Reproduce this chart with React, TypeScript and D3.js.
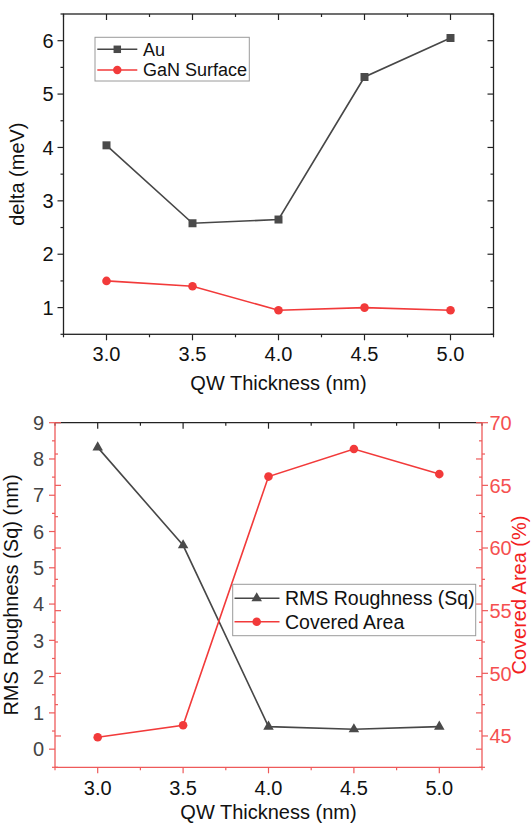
import React from "react";
import * as d3 from "d3";

// ---------- data ----------
const thickness = [3.0, 3.5, 4.0, 4.5, 5.0];
const auDelta = [4.04, 2.58, 2.65, 5.32, 6.05];
const ganDelta = [1.5, 1.4, 0.95, 1.0, 0.95];
const rmsRoughness = [8.32, 5.62, 0.62, 0.55, 0.62];
const coveredArea = [44.9, 45.85, 65.7, 67.9, 65.9];

const xTicks = [3.0, 3.5, 4.0, 4.5, 5.0];
const xMinorTicks = [2.75, 3.25, 3.75, 4.25, 4.75, 5.25];
const topYTicks = [1, 2, 3, 4, 5, 6];
const topYMinor = [0.5, 1.5, 2.5, 3.5, 4.5, 5.5, 6.5];
const leftYTicks = [0, 1, 2, 3, 4, 5, 6, 7, 8, 9];
const leftYMinor = [-0.5, 0.5, 1.5, 2.5, 3.5, 4.5, 5.5, 6.5, 7.5, 8.5];
const rightYTicks = [45, 50, 55, 60, 65, 70];
const rightYMinor = [42.5, 47.5, 52.5, 57.5, 62.5, 67.5];

const FONT = "'Liberation Sans', Arial, sans-serif";
const GRAY = "#474747";
const RED = "#f23a3a";
const AXRED = "#ee5a5a";
const MAJ = 6;
const MIN = 3;
const fmt = d3.format(".1f");

type TickProps = {
  vals: number[];
  scale: (v: number) => number;
  orient: "left" | "right" | "top" | "bottom";
  pos: number;
  len: number;
  dir: 1 | -1; // 1 outward, -1 inward
  color: string;
};

function Ticks({ vals, scale, orient, pos, len, dir, color }: TickProps) {
  return (
    <g stroke={color} strokeWidth={1.2}>
      {vals.map((v, i) => {
        const p = scale(v);
        if (orient === "left") return <line key={i} x1={pos} x2={pos - dir * len} y1={p} y2={p} />;
        if (orient === "right") return <line key={i} x1={pos} x2={pos + dir * len} y1={p} y2={p} />;
        if (orient === "top") return <line key={i} x1={p} x2={p} y1={pos} y2={pos - dir * len} />;
        return <line key={i} x1={p} x2={p} y1={pos} y2={pos + dir * len} />;
      })}
    </g>
  );
}

function TopChart() {
  const L = 63.5, R = 493.5, T = 14, B = 334.3;
  const x = d3.scaleLinear().domain([2.75, 5.25]).range([L, R]);
  const y = d3.scaleLinear().domain([0.5, 6.5]).range([B, T]);
  const line = d3.line<number>().x((_, i) => x(thickness[i])).y((d) => y(d));
  const sq = d3.symbol().type(d3.symbolSquare).size(64)() as string;
  const legendSq = d3.symbol().type(d3.symbolSquare).size(56)() as string;
  return (
    <g>
      <Ticks vals={xTicks} scale={x} orient="bottom" pos={B} len={MAJ} dir={1} color="#222" />
      <Ticks vals={xMinorTicks} scale={x} orient="bottom" pos={B} len={MIN} dir={1} color="#222" />
      <Ticks vals={xTicks} scale={x} orient="top" pos={T} len={MAJ} dir={-1} color="#222" />
      <Ticks vals={xMinorTicks} scale={x} orient="top" pos={T} len={MIN} dir={-1} color="#222" />
      <Ticks vals={topYTicks} scale={y} orient="left" pos={L} len={MAJ} dir={1} color="#222" />
      <Ticks vals={topYMinor} scale={y} orient="left" pos={L} len={MIN} dir={1} color="#222" />
      <Ticks vals={topYTicks} scale={y} orient="right" pos={R} len={MAJ} dir={-1} color="#222" />
      <Ticks vals={topYMinor} scale={y} orient="right" pos={R} len={MIN} dir={-1} color="#222" />
      <rect x={L} y={T} width={R - L} height={B - T} fill="none" stroke="#222" strokeWidth={1.3} />
      <g fontFamily={FONT} fontSize={20} fill="#111">
        {xTicks.map((t, i) => (
          <text key={i} x={x(t)} y={361} textAnchor="middle">{fmt(t)}</text>
        ))}
        {topYTicks.map((t, i) => (
          <text key={i} x={53.5} y={y(t)} dy="0.36em" textAnchor="end">{t}</text>
        ))}
        <text x={(L + R) / 2} y={389.5} textAnchor="middle">QW Thickness (nm)</text>
        <text transform={`translate(24,${(T + B) / 2}) rotate(-90)`} textAnchor="middle">delta (meV)</text>
      </g>
      <path d={line(auDelta) as string} fill="none" stroke={GRAY} strokeWidth={1.6} />
      {auDelta.map((v, i) => (
        <path key={i} d={sq} transform={`translate(${x(thickness[i])},${y(v)})`} fill="#4a4a4a" />
      ))}
      <path d={line(ganDelta) as string} fill="none" stroke={RED} strokeWidth={1.6} />
      {ganDelta.map((v, i) => (
        <circle key={i} cx={x(thickness[i])} cy={y(v)} r={4.3} fill={RED} />
      ))}
      <rect x={95} y={37.3} width={154.3} height={43.7} fill="#fff" stroke="#9a9a9a" strokeWidth={1} />
      <line x1={97.3} x2={137.3} y1={49.3} y2={49.3} stroke={GRAY} strokeWidth={1.6} />
      <path d={legendSq} transform="translate(117.3,49.3)" fill="#4a4a4a" />
      <line x1={97.3} x2={137.3} y1={70} y2={70} stroke={RED} strokeWidth={1.6} />
      <circle cx={117.3} cy={70} r={4.2} fill={RED} />
      <g fontFamily={FONT} fontSize={18} fill="#111">
        <text x={143} y={49.3} dy="0.36em">Au</text>
        <text x={143} y={70} dy="0.36em">GaN Surface</text>
      </g>
    </g>
  );
}

function BottomChart() {
  const L = 55, R = 482, T = 422.7, B = 767.3;
  const x = d3.scaleLinear().domain([2.75, 5.25]).range([L, R]);
  const yL = d3.scaleLinear().domain([-0.5, 9]).range([B, T]);
  const yR = d3.scaleLinear().domain([42.5, 70]).range([B, T]);
  const lineL = d3.line<number>().x((_, i) => x(thickness[i])).y((d) => yL(d));
  const lineR = d3.line<number>().x((_, i) => x(thickness[i])).y((d) => yR(d));
  const tri = d3.symbol().type(d3.symbolTriangle).size(48)() as string;
  return (
    <g>
      <Ticks vals={xTicks} scale={x} orient="top" pos={T} len={MAJ} dir={-1} color="#222" />
      <Ticks vals={xMinorTicks} scale={x} orient="top" pos={T} len={MIN} dir={-1} color="#222" />
      <line x1={L} x2={R} y1={T} y2={T} stroke="#222" strokeWidth={1.3} />
      <Ticks vals={xTicks} scale={x} orient="bottom" pos={B} len={MAJ} dir={1} color={AXRED} />
      <Ticks vals={xMinorTicks} scale={x} orient="bottom" pos={B} len={MIN} dir={1} color={AXRED} />
      <Ticks vals={leftYTicks} scale={yL} orient="left" pos={L} len={MAJ} dir={1} color={AXRED} />
      <Ticks vals={leftYMinor} scale={yL} orient="left" pos={L} len={MIN} dir={1} color={AXRED} />
      <Ticks vals={rightYTicks} scale={yR} orient="left" pos={L} len={MAJ} dir={-1} color={AXRED} />
      <Ticks vals={rightYMinor} scale={yR} orient="left" pos={L} len={MIN} dir={-1} color={AXRED} />
      <Ticks vals={rightYTicks} scale={yR} orient="right" pos={R} len={MAJ} dir={1} color={AXRED} />
      <Ticks vals={rightYMinor} scale={yR} orient="right" pos={R} len={MIN} dir={1} color={AXRED} />
      <Ticks vals={leftYTicks} scale={yL} orient="right" pos={R} len={MAJ} dir={-1} color={AXRED} />
      <Ticks vals={leftYMinor} scale={yL} orient="right" pos={R} len={MIN} dir={-1} color={AXRED} />
      <g stroke={AXRED} strokeWidth={1.3}>
        <line x1={L} x2={L} y1={T} y2={B} />
        <line x1={R} x2={R} y1={T} y2={B} />
        <line x1={L} x2={R} y1={B} y2={B} />
      </g>
      <g fontFamily={FONT} fontSize={20}>
        {xTicks.map((t, i) => (
          <text key={i} x={x(t)} y={795} textAnchor="middle" fill="#111">{fmt(t)}</text>
        ))}
        {leftYTicks.map((t, i) => (
          <text key={i} x={44} y={yL(t)} dy="0.36em" textAnchor="end" fill="#444">{t}</text>
        ))}
        {rightYTicks.map((t, i) => (
          <text key={i} x={489.5} y={yR(t)} dy="0.36em" textAnchor="start" fill="#f55050">{t}</text>
        ))}
        <text x={(L + R) / 2} y={819} textAnchor="middle" fill="#111">QW Thickness (nm)</text>
        <text transform={`translate(18,${(T + B) / 2}) rotate(-90)`} textAnchor="middle" fill="#111">RMS Roughness (Sq) (nm)</text>
        <text transform={`translate(526,${(T + B) / 2}) rotate(-90)`} textAnchor="middle" fill="#f21e1e">Covered Area (%)</text>
      </g>
      <path d={lineL(rmsRoughness) as string} fill="none" stroke={GRAY} strokeWidth={1.6} />
      {rmsRoughness.map((v, i) => (
        <path key={i} d={tri} transform={`translate(${x(thickness[i])},${yL(v)})`} fill="#4a4a4a" />
      ))}
      <path d={lineR(coveredArea) as string} fill="none" stroke={RED} strokeWidth={1.6} />
      {coveredArea.map((v, i) => (
        <circle key={i} cx={x(thickness[i])} cy={yR(v)} r={4.3} fill={RED} />
      ))}
      <rect x={232.7} y={584.3} width={243} height={51.4} fill="#fff" stroke="#9a9a9a" strokeWidth={1} />
      <line x1={234.5} x2={279.5} y1={598.3} y2={598.3} stroke={GRAY} strokeWidth={1.6} />
      <path d={tri} transform="translate(256.7,598.3)" fill="#4a4a4a" />
      <line x1={234.5} x2={279.5} y1={621.7} y2={621.7} stroke={RED} strokeWidth={1.6} />
      <circle cx={256.7} cy={621.7} r={4.3} fill={RED} />
      <g fontFamily={FONT} fontSize={19.5} fill="#111">
        <text x={285} y={598.3} dy="0.36em">RMS Roughness (Sq)</text>
        <text x={285} y={621.7} dy="0.36em">Covered Area</text>
      </g>
    </g>
  );
}

export default function App() {
  return (
    <svg
      width={531}
      height={824}
      viewBox="0 0 531 824"
      style={{ position: "absolute", left: 0, top: 0, background: "#fff" }}
    >
      <rect width={531} height={824} fill="#fff" />
      <TopChart />
      <BottomChart />
    </svg>
  );
}
